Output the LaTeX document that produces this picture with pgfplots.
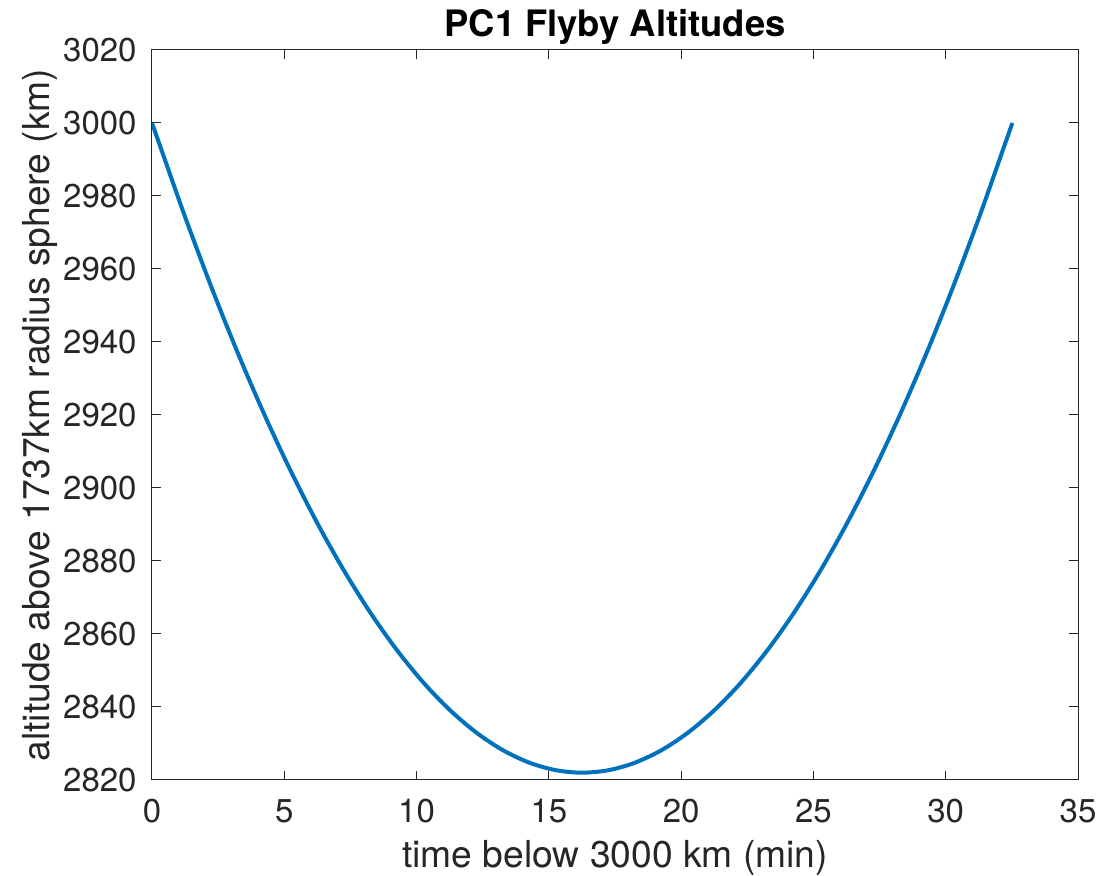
\documentclass[border=0pt]{standalone}
\usepackage{fontspec}
\setmainfont{TeX Gyre Heros}
\usepackage{pgfplots}
\pgfplotsset{compat=1.18}
\definecolor{mblue}{RGB}{0,114,189}
\definecolor{mgray}{RGB}{38,38,38}
\begin{document}
\begin{tikzpicture}
\begin{axis}[
 name=ax,
 scale only axis, width=463pt, height=365pt,
 xmin=0, xmax=35, ymin=2820, ymax=3020,
 xtick={0,5,...,35}, ytick={2820,2840,...,3020},
 tick align=inside, major tick length=4.5pt,
 axis line style={mgray, line width=0.5pt},
 every tick/.style={mgray, line width=0.5pt},
 /pgf/number format/assume math mode=true,
 /pgf/number format/1000 sep={},
 tick label style={font=\fontsize{16.5}{19}\selectfont, text=mgray, inner sep=0pt},
 xticklabel style={anchor=base, yshift=-21.5pt},
 yticklabel style={anchor=east, xshift=-7.5pt},
 label style={font=\fontsize{18.6}{22}\selectfont, text=mgray, inner sep=0pt},
 xlabel={time below 3000 km (min)},
 ylabel={altitude above 1737km radius sphere (km)},
 xlabel style={at={(axis description cs:0.5,-0.1192)}, anchor=base},
 ylabel style={at={(axis description cs:-0.1112,0.5)}, anchor=base},
 every axis title shift=0pt,
 title={PC1 Flyby Altitudes},
 title style={font=\fontsize{18.2}{22}\selectfont\bfseries, at={(axis description cs:0.5,1.0178)}, anchor=base, inner sep=0pt, yshift=0pt},
]
\addplot[mblue, line width=2pt, smooth] coordinates {
(0,3000) (0.26,2994.65) (1.26,2974.08) (2.26,2954.76) (3.26,2936.69) (4.26,2919.91)
(5.26,2904.41) (6.26,2890.21) (7.26,2877.33) (8.26,2865.77) (9.26,2855.55) (10.26,2846.67)
(11.26,2839.15) (12.26,2832.98) (13.26,2828.18) (14.26,2824.75) (15.26,2822.69) (16.26,2822.00)
(17.26,2822.69) (18.26,2824.75) (19.26,2828.18) (20.26,2832.98) (21.26,2839.15) (22.26,2846.67)
(23.26,2855.55) (24.26,2865.77) (25.26,2877.33) (26.26,2890.21) (27.26,2904.41) (28.26,2919.91)
(29.26,2936.69) (30.26,2954.76) (31.26,2974.08) (32.26,2994.65) (32.52,3000)
};
\end{axis}
\pgfresetboundingbox
\path ([shift={(-76pt,-48pt)}]ax.south west) rectangle ([shift={(14.5pt,25pt)}]ax.north east);
\end{tikzpicture}
\end{document}
